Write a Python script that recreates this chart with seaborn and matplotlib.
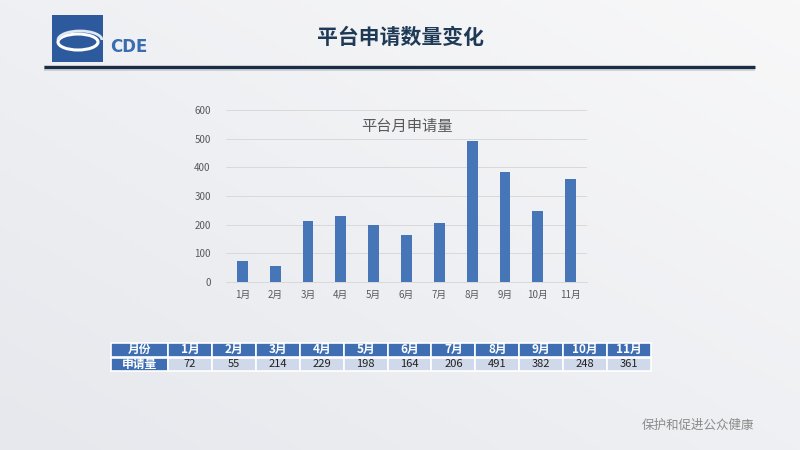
import numpy as np
import pandas as pd
import matplotlib
matplotlib.use("Agg")
import matplotlib.pyplot as plt
from matplotlib.patches import Rectangle, Ellipse, Arc
import seaborn as sns

months = ["1月", "2月", "3月", "4月", "5月", "6月", "7月", "8月", "9月", "10月", "11月"]
applications = [72, 55, 214, 229, 198, 164, 206, 491, 382, 248, 361]
yticks = [0, 100, 200, 300, 400, 500, 600]
page_title = "平台申请数量变化"
chart_title = "平台月申请量"
row_header = "月份"
row_label = "申请量"
footer = "保护和促进公众健康"

sns.set_theme(style="white")
plt.rcParams['font.family'] = ['Noto Sans CJK SC', 'DejaVu Sans']

fig = plt.figure(figsize=(8, 4.5), dpi=100)

# background gradient
bg = fig.add_axes([0, 0, 1, 1], zorder=-10)
gx = np.linspace(0, 1, 200)
gy = np.linspace(0, 1, 120)
X, Y = np.meshgrid(gx, gy)
val = 0.5 * X + 0.5 * (1 - Y)
bg.imshow(val, cmap=matplotlib.colors.LinearSegmentedColormap.from_list("g", ["#e6e8ed", "#f8f8f9"]),
          extent=[0, 800, 450, 0], aspect="auto")
bg.set_xlim(0, 800)
bg.set_ylim(450, 0)
bg.axis("off")

# overlay for decorations & table (pixel coords)
ov = fig.add_axes([0, 0, 1, 1], zorder=5)
ov.set_xlim(0, 800)
ov.set_ylim(450, 0)
ov.axis("off")
ov.patch.set_alpha(0)

# logo
ov.add_patch(Rectangle((52, 15), 51, 47, facecolor="#2d5a9c", edgecolor="none"))
ov.add_patch(Ellipse((78, 42), 40, 16, facecolor="none", edgecolor="white", lw=2.2))
ov.add_patch(Arc((80, 40), 44, 18, theta1=180, theta2=360, edgecolor="#dfe8f5", lw=2.0))
ov.text(110, 47, "CDE", fontsize=12, fontweight="bold", color="#3a6db0",
        ha="left", va="center", family=["DejaVu Sans"])

# title & rule
ov.text(400, 38, page_title, fontsize=15, fontweight="bold", color="#1f3a56",
        ha="center", va="center")
ov.plot([44, 755], [68, 68], color="#9aa3ad", lw=4, solid_capstyle="butt", alpha=0.5)
ov.plot([44, 755], [66.5, 66.5], color="#1b2d44", lw=2.2, solid_capstyle="butt")

# table
x0 = 111
first_w = 57
col_w = (651 - (x0 + first_w)) / len(months)
top = 343
rh = 13.5
blue = "#3f6fb2"
light = "#d0d9e9"
ov.add_patch(Rectangle((x0, top), first_w, rh, facecolor=blue, edgecolor="white", lw=1.2))
ov.text(x0 + first_w / 2, top + rh / 2, row_header, color="white", fontsize=8.5,
        fontweight="bold", ha="center", va="center")
ov.add_patch(Rectangle((x0, top + rh + 1), first_w, rh, facecolor=blue, edgecolor="white", lw=1.2))
ov.text(x0 + first_w / 2, top + rh * 1.5 + 1, row_label, color="white", fontsize=8.5,
        fontweight="bold", ha="center", va="center")
for i, (m, v) in enumerate(zip(months, applications)):
    cx = x0 + first_w + i * col_w
    ov.add_patch(Rectangle((cx, top), col_w, rh, facecolor=blue, edgecolor="white", lw=1.2))
    ov.text(cx + col_w / 2, top + rh / 2, m, color="white", fontsize=8.5,
            fontweight="bold", ha="center", va="center")
    ov.add_patch(Rectangle((cx, top + rh + 1), col_w, rh, facecolor=light, edgecolor="white", lw=1.2))
    ov.text(cx + col_w / 2, top + rh * 1.5 + 1, str(v), color="#222222", fontsize=8,
            ha="center", va="center")

# footer
ov.text(698, 425, footer, fontsize=9, color="#8a8a8a", ha="center", va="center", style="italic")

# main chart
ax = fig.add_axes([226 / 800, 1 - 282 / 450, (587 - 226) / 800, (282 - 110) / 450], zorder=3)
ax.patch.set_alpha(0)
df = pd.DataFrame({"month": months, "count": applications})
sns.barplot(data=df, x="month", y="count", color="#4676b8", width=0.33, ax=ax,
            saturation=1, zorder=3, edgecolor="none", linewidth=0)
ax.set_ylim(0, 600)
ax.set_yticks(yticks)
ax.set_yticklabels([str(t) for t in yticks], fontsize=7, color="#595959")
ax.tick_params(axis="x", labelsize=7, colors="#595959", length=0, pad=6)
ax.tick_params(axis="y", length=0, pad=11)
ax.set_xlabel("")
ax.set_ylabel("")
ax.yaxis.grid(True, color="#d9d9d9", lw=0.7)
ax.set_axisbelow(True)
for s in ["top", "right", "left"]:
    ax.spines[s].set_visible(False)
ax.spines["bottom"].set_color("#d9d9d9")
ax.spines["bottom"].set_linewidth(0.7)
ax.set_title(chart_title, fontsize=11, color="#595959", y=0.83)

fig.savefig("out.png", dpi=100)
